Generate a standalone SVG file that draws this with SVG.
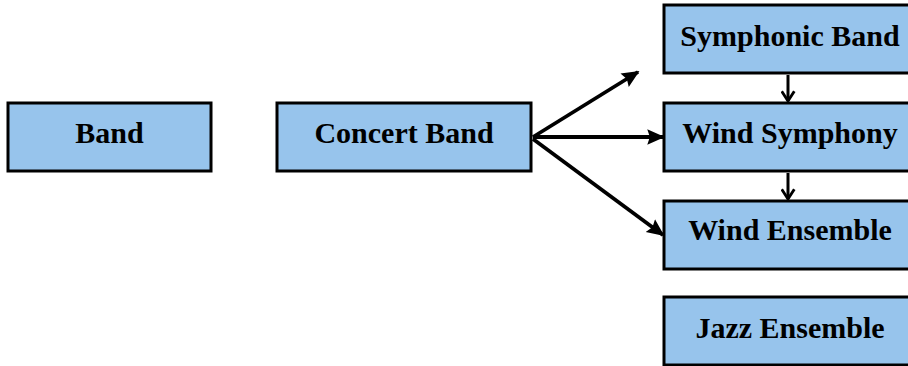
<svg xmlns="http://www.w3.org/2000/svg" width="908" height="366" viewBox="0 0 908 366">
  <style>
    .box { fill: #97c4ec; stroke: #000; stroke-width: 3; }
    .lbl { font-family: "Liberation Serif", "Times New Roman", serif; font-weight: bold; font-size: 30px; fill: #000; text-anchor: middle; }
    .conn { stroke: #000; stroke-width: 3.8; fill: none; }
    .step { stroke: #000; stroke-width: 3; fill: none; }
  </style>
  <defs>
    <marker id="head" viewBox="0 0 10 10" refX="9" refY="5" markerWidth="4.6" markerHeight="4.6" markerUnits="strokeWidth" orient="auto">
      <path d="M0,0.5 L10,5 L0,9.5 L1.5,5 Z" fill="#000"/>
    </marker>
    <marker id="chev" viewBox="0 0 10 10" refX="9" refY="5" markerWidth="5" markerHeight="5" markerUnits="strokeWidth" orient="auto">
      <path d="M2.5,0.8 L9,5 L2.5,9.2" fill="none" stroke="#000" stroke-width="1.9"/>
    </marker>
  </defs>

  <g id="band">
    <rect class="box" x="8" y="103" width="203" height="68"/>
    <text class="lbl" x="109.5" y="143">Band</text>
  </g>
  <g id="concert-band">
    <rect class="box" x="277" y="103" width="254" height="68"/>
    <text class="lbl" x="404" y="143">Concert Band</text>
  </g>
  <g id="symphonic-band">
    <rect class="box" x="664" y="5" width="254" height="68"/>
    <text class="lbl" x="790" y="46">Symphonic Band</text>
  </g>
  <g id="wind-symphony">
    <rect class="box" x="664" y="103" width="254" height="68"/>
    <text class="lbl" x="790" y="143">Wind Symphony</text>
  </g>
  <g id="wind-ensemble">
    <rect class="box" x="664" y="201" width="254" height="68"/>
    <text class="lbl" x="790" y="240">Wind Ensemble</text>
  </g>
  <g id="jazz-ensemble">
    <rect class="box" x="664" y="297" width="254" height="68"/>
    <text class="lbl" x="790" y="338">Jazz Ensemble</text>
  </g>

  <g id="connectors">
    <line class="conn" x1="533" y1="137" x2="638" y2="72" marker-end="url(#head)"/>
    <line class="conn" x1="533" y1="137" x2="663" y2="137" marker-end="url(#head)"/>
    <line class="conn" x1="533" y1="139" x2="663" y2="235" marker-end="url(#head)"/>
    <line class="step" x1="788" y1="75" x2="788" y2="101" marker-end="url(#chev)"/>
    <line class="step" x1="788" y1="173" x2="788" y2="199" marker-end="url(#chev)"/>
  </g>
</svg>
